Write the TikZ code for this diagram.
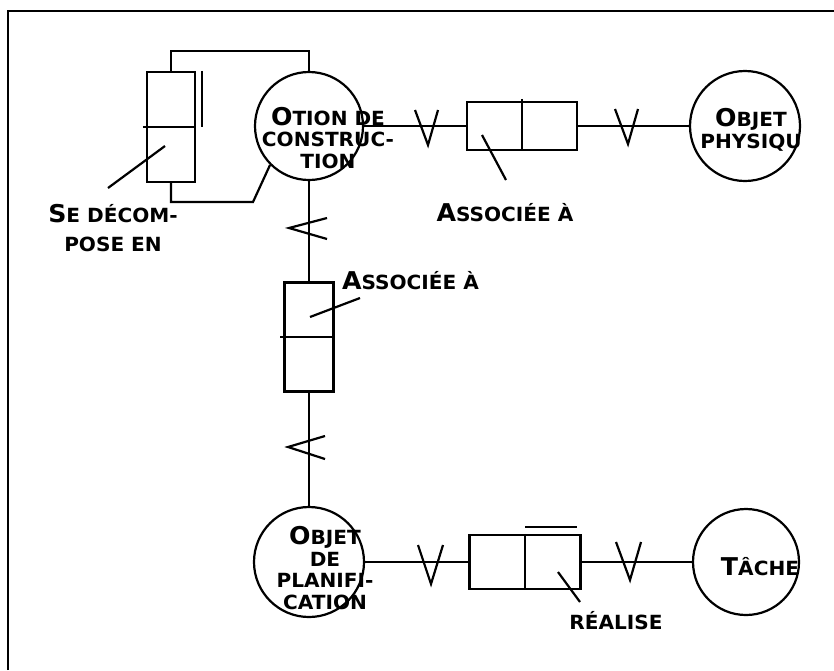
\documentclass[tikz,border=0pt]{standalone}
\usepackage{fontspec}
\newfontfamily\copper[FakeStretch=1.03]{DejaVu Sans Bold}
\usetikzlibrary{calc,positioning}
\newcommand{\Ini}[1]{{\fontsize{24.5}{21}\selectfont #1}}

\begin{document}
\begin{tikzpicture}[x=1pt, y=-1pt, line width=2.2pt]
		% Estilos del diagrama
		\tikzset{
			entite/.style={draw, circle, minimum size=108pt, inner sep=0pt},
			lien/.style={draw, rectangle, inner sep=0pt},
			libelle/.style={font=\copper\fontsize{19.5}{21.5}\selectfont, align=center, inner sep=0pt}
		}
		\useasboundingbox (0,0) rectangle (834,670);
		
		% --- Marco (solo arriba e izquierda) ---
		\draw[line width=2.8pt] (8,670) -- (8,11) -- (834,11);
		
		% --- Entidades (circulos) ---
		\node[entite] (oc) at (309,126) {};
		\node[entite, minimum size=110pt] (op) at (745,126) {};
		\node[entite, minimum size=110pt] (plan) at (309,562) {};
		\node[entite, minimum size=106pt] (tache) at (746,562) {};
		
		% --- Relaciones (cajas de dos celdas) ---
		\node[lien, minimum width=110pt, minimum height=48pt] (assoc1) at (522,126) {};
		\node[lien, minimum width=49pt, minimum height=109pt] (assoc2) at (309,337) {};
		\node[lien, minimum width=111pt, minimum height=54pt] (real) at (525,562) {};
		\node[lien, minimum width=48pt, minimum height=110pt] (decomp) at (171,127) {};
		
		% divisiones internas
		\draw ([yshift=2pt]assoc1.north) -- (assoc1.south);
		\draw ([xshift=-3pt]assoc2.west) -- (assoc2.east);
		\draw (real.north) -- (real.south);
		\draw ([xshift=-3pt]decomp.west) -- (decomp.east);
		% trazos extra
		\draw ([xshift=6pt]decomp.north east) -- ([xshift=6pt]decomp.east);
		\draw ([yshift=7pt]real.north) -- ([xshift=-5pt, yshift=7pt]real.north east);
		
		% --- Conectores ---
		\draw (oc) -- (assoc1);
		\draw (assoc1) -- (op);
		\draw (oc) -- (assoc2);
		\draw (assoc2) -- (plan);
		\draw (plan) -- (real);
		\draw (real) -- (tache);
		\draw (decomp.north) -- ++(0,-20) -| (oc.north);
		\coordinate (coude) at (253,202);
		\draw (decomp.south) |- (coude) -- (oc.south west);
		
		% --- Cardinalidades ---
		\draw (415,110) -- (428,145) -- (438,110);
		\draw (615,109) -- (628,144) -- (638,109);
		\draw (327,218) -- (289,228) -- (327,239);
		\draw (325,436) -- (288,447) -- (325,459);
		\draw (418,545) -- (431,584) -- (443,545);
		\draw (616,542) -- (630,580) -- (641,542);
		
		% --- Textos ---
		\node[libelle] (t-oc) at (328,138) {\Ini{O}TION DE\\CONSTRUC-\\TION};
		\node[libelle] (t-op) at (751,130) {\Ini{O}BJET\\PHYSIQU};
		\node[libelle] (t-plan) at (325,568) {\Ini{O}BJET\\DE\\PLANIFI-\\CATION};
		\node[libelle] (t-tache) at (760,567) {\Ini{T}ÂCHE};
		\node[libelle] (t-decomp) at (113,228) {\Ini{S}E DÉCOM-\\[8pt]POSE EN};
		\node[libelle, anchor=west] (t-assoc2) at (341,281) {\Ini{A}SSOCIÉE À};
		\node[libelle] (t-assoc1) at (505,213) {\Ini{A}SSOCIÉE À};
		\node[libelle] (t-real) at (616,621) {RÉALISE};
		
		% --- Flechas de rol ---
		\draw (165,146) -- (108,188);
		\draw (482,135) -- (506,180);
		\draw (310,317) -- (360,298);
		\draw (558,572) -- (580,602);
		
	\end{tikzpicture}
\end{document}
